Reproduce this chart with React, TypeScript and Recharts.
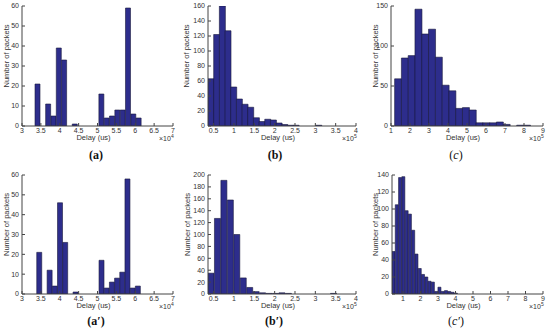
import { BarChart, Bar, XAxis, YAxis } from "recharts";

// bin centres (delay, in units of the axis multiplier) and packet counts
const aCenters = [3.415, 3.556, 3.697, 3.838, 3.979, 4.12, 4.261, 4.402, 4.543, 4.684, 4.825, 4.966, 5.107, 5.248, 5.389, 5.53, 5.671, 5.812, 5.953, 6.094];
const aCounts = [21, 0, 11, 5, 39, 33, 0, 1, 0, 0, 0, 0, 16, 4, 5, 8, 8, 59, 6, 4];

const bCenters = [0.431, 0.57, 0.71, 0.849, 0.989, 1.128, 1.268, 1.407, 1.547, 1.686, 1.826, 1.965, 2.105, 2.244, 2.384, 2.523, 2.663, 2.802, 2.942, 3.081];
const bCounts = [63, 122, 160, 127, 52, 36, 29, 25, 11, 6, 9, 8, 4, 2, 1, 1, 0, 0, 0, 1];

const cCenters = [1.369, 1.726, 2.083, 2.44, 2.797, 3.154, 3.511, 3.868, 4.225, 4.582, 4.939, 5.296, 5.653, 6.01, 6.367, 6.724, 7.081, 7.438, 7.795, 8.152];
const cCounts = [59, 85, 88, 146, 115, 121, 86, 51, 44, 22, 23, 20, 4, 4, 4, 5, 2, 0, 1, 1];

const a2Centers = [3.459, 3.596, 3.734, 3.871, 4.009, 4.146, 4.284, 4.421, 4.559, 4.696, 4.834, 4.971, 5.109, 5.246, 5.384, 5.521, 5.659, 5.796, 5.934, 6.071];
const a2Counts = [21, 0, 12, 4, 46, 26, 0, 1, 0, 0, 0, 0, 17, 3, 6, 8, 11, 58, 3, 4];

const b2Centers = [0.44, 0.599, 0.757, 0.916, 1.074, 1.233, 1.392, 1.55, 1.709, 1.867, 2.026, 2.184, 2.343, 2.502, 2.66, 2.819, 2.977, 3.136, 3.294, 3.453];
const b2Counts = [35, 127, 191, 158, 100, 27, 11, 4, 2, 1, 1, 2, 1, 0, 0, 0, 0, 0, 0, 1];

const c2Centers = [0.464, 0.651, 0.839, 1.026, 1.214, 1.401, 1.589, 1.776, 1.964, 2.151, 2.339, 2.526, 2.714, 2.901, 3.089, 3.276, 3.464, 3.651, 3.839, 4.026];
const c2Counts = [50, 105, 137, 138, 98, 94, 75, 47, 30, 23, 20, 15, 14, 3, 8, 3, 4, 3, 2, 1];

const xTicksA = [3, 3.5, 4, 4.5, 5, 5.5, 6, 6.5, 7];
const xTicksB = [0.5, 1, 1.5, 2, 2.5, 3, 3.5, 4];
const xTicksC = [1, 2, 3, 4, 5, 6, 7, 8, 9];
const yTicksA = [0, 10, 20, 30, 40, 50, 60];
const yTicksB = [0, 20, 40, 60, 80, 100, 120, 140, 160];
const yTicksC = [0, 50, 100, 150];
const yTicksB2 = [0, 20, 40, 60, 80, 100, 120, 140, 160, 180, 200];
const yTicksC2 = [0, 20, 40, 60, 80, 100, 120, 140];

const YW = 30;
const MT = 4;
const MR = 8;
const XH = 24;
const AXIS = "#444";
const TEXT = "#333";
const BAR = "#2d2d8c";

interface PanelProps {
  left: number;
  top: number;
  w: number;
  h: number;
  centers: number[];
  counts: number[];
  xDomain: [number, number];
  xTicks: number[];
  yTicks: number[];
  exp: string;
  yLabelX: number;
  caption: React.ReactNode;
  capX: number;
  capY: number;
}

function Panel(p: PanelProps) {
  const data = p.centers.map((x, i) => ({ x, n: p.counts[i] }));
  const yMax = p.yTicks[p.yTicks.length - 1];
  return (
    <>
      <div style={{ position: "absolute", left: p.left - YW, top: p.top - MT }}>
        <BarChart
          width={YW + p.w + MR}
          height={MT + p.h + XH}
          data={data}
          margin={{ top: MT, right: MR, bottom: 0, left: 0 }}
          barCategoryGap={0}
          barGap={0}
        >
          <XAxis
            dataKey="x"
            type="number"
            domain={p.xDomain}
            ticks={p.xTicks}
            allowDataOverflow
            interval={0}
            height={XH}
            stroke={AXIS}
            tickSize={-3}
            tickMargin={5.5}
            tick={{ fontSize: 7, fill: TEXT }}
            label={{ value: "Delay (us)", position: "insideBottom", offset: 10, dx: -4, style: { fontSize: 7.5, fill: TEXT } }}
          />
          <XAxis
            xAxisId="top"
            orientation="top"
            type="number"
            domain={p.xDomain}
            ticks={p.xTicks}
            allowDataOverflow
            interval={0}
            height={0}
            stroke={AXIS}
            tickSize={-3}
            tickFormatter={() => ""}
          />
          <YAxis
            type="number"
            domain={[0, yMax]}
            ticks={p.yTicks}
            allowDataOverflow
            interval={0}
            width={YW}
            stroke={AXIS}
            tickSize={-3}
            tickMargin={6}
            tick={{ fontSize: 7, fill: TEXT }}
            label={{
              value: "Number of packets",
              angle: -90,
              position: "insideLeft",
              offset: p.yLabelX - p.left + YW,
              dy: -10,
              style: { fontSize: 7.5, fill: TEXT, textAnchor: "middle" },
            }}
          />
          <YAxis
            yAxisId="right"
            orientation="right"
            type="number"
            domain={[0, yMax]}
            ticks={p.yTicks}
            allowDataOverflow
            interval={0}
            width={0}
            stroke={AXIS}
            tickSize={-3}
            tickFormatter={() => ""}
          />
          <Bar dataKey="n" fill={BAR} stroke="#1a1a3c" strokeWidth={0.6} isAnimationActive={false} />
        </BarChart>
      </div>
      <div
        style={{
          position: "absolute",
          left: p.left + p.w - 14,
          top: p.top + p.h + 9,
          fontSize: 7,
          lineHeight: "8px",
          color: TEXT,
          whiteSpace: "nowrap",
        }}
      >
        ×10<span style={{ fontSize: 5, position: "relative", top: -3 }}>{p.exp}</span>
      </div>
      <div
        style={{
          position: "absolute",
          left: p.capX - 25,
          width: 50,
          top: p.capY - 8,
          textAlign: "center",
          fontFamily: "'Liberation Serif', 'Times New Roman', serif",
          fontSize: 12,
          lineHeight: "16px",
          color: "#111",
        }}
      >
        {p.caption}
      </div>
    </>
  );
}

export default function App() {
  return (
    <div
      style={{
        position: "absolute",
        left: 0,
        top: 0,
        width: 550,
        height: 331,
        background: "#fff",
        fontFamily: "'Liberation Sans', Arial, sans-serif",
      }}
    >
      <Panel left={22} top={6} w={151} h={120} centers={aCenters} counts={aCounts} xDomain={[3, 7]} xTicks={xTicksA} yTicks={yTicksA} exp="4" yLabelX={6.5} caption={<b>(a)</b>} capX={96} capY={155} />
      <Panel left={208} top={6} w={148} h={120} centers={bCenters} counts={bCounts} xDomain={[0.361, 4]} xTicks={xTicksB} yTicks={yTicksB} exp="5" yLabelX={186.5} caption={<b>(b)</b>} capX={275} capY={155} />
      <Panel left={391} top={6} w={152} h={120} centers={cCenters} counts={cCounts} xDomain={[1, 9]} xTicks={xTicksC} yTicks={yTicksC} exp="5" yLabelX={375.5} caption={<span>(<i>c</i>)</span>} capX={456} capY={155} />
      <Panel left={22} top={175} w={151} h={119} centers={a2Centers} counts={a2Counts} xDomain={[3, 7]} xTicks={xTicksA} yTicks={yTicksA} exp="4" yLabelX={6} caption={<b>(a′)</b>} capX={96} capY={321} />
      <Panel left={208} top={175} w={148} h={119} centers={b2Centers} counts={b2Counts} xDomain={[0.361, 4]} xTicks={xTicksB} yTicks={yTicksB2} exp="5" yLabelX={187.5} caption={<b>(b′)</b>} capX={274} capY={321} />
      <Panel left={392} top={175} w={151} h={119} centers={c2Centers} counts={c2Counts} xDomain={[0.37, 9]} xTicks={xTicksC} yTicks={yTicksC2} exp="5" yLabelX={375.5} caption={<span>(<i>c′</i>)</span>} capX={456} capY={321} />
    </div>
  );
}
